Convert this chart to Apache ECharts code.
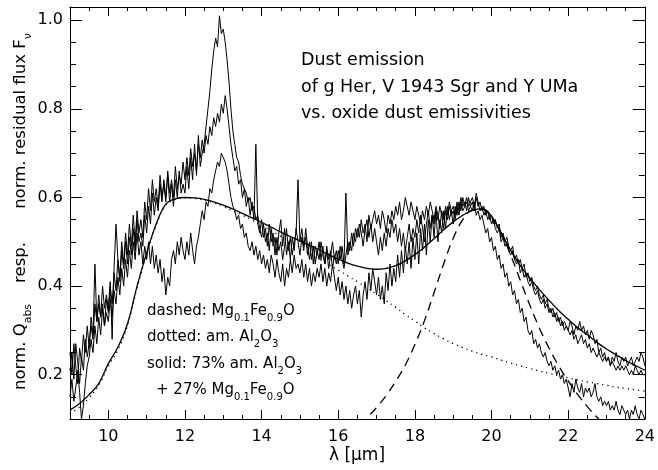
<!DOCTYPE html>
<html>
<head>
<meta charset="utf-8">
<script src="https://cdn.jsdelivr.net/npm/echarts@6/dist/echarts.min.js"></script>
<style>
html, body { margin: 0; padding: 0; background: #fff; }
#chart { width: 658px; height: 470px; }
</style>
</head>
<body>
<div id="chart"></div>
<script>
// spectra: 9 - 24 µm, sampled every 0.05 µm (one row = 0.5 µm)
const specStart = 9;
const specStep = 0.05;

const specA = [
  0.21, 0.25, 0.19, 0.27, 0.23, 0.18, 0.24, 0.21, 0.28, 0.24,
  0.27, 0.31, 0.28, 0.36, 0.32, 0.38, 0.33, 0.36, 0.31, 0.37,
  0.34, 0.40, 0.36, 0.43, 0.39, 0.46, 0.41, 0.48, 0.44, 0.50,
  0.45, 0.51, 0.47, 0.53, 0.48, 0.55, 0.50, 0.52, 0.49, 0.56,
  0.52, 0.58, 0.54, 0.61, 0.56, 0.60, 0.57, 0.63, 0.59, 0.64,
  0.60, 0.65, 0.59, 0.63, 0.58, 0.64, 0.60, 0.66, 0.61, 0.63,
  0.61, 0.67, 0.62, 0.69, 0.64, 0.72, 0.65, 0.74, 0.67, 0.70,
  0.72, 0.76, 0.80, 0.84, 0.89, 0.93, 0.96, 0.94, 1.01, 0.97,
  0.98, 0.95, 0.91, 0.86, 0.80, 0.75, 0.72, 0.69, 0.68, 0.65,
  0.63, 0.62, 0.61, 0.59, 0.60, 0.57, 0.58, 0.55, 0.56, 0.53,
  0.51, 0.54, 0.50, 0.52, 0.48, 0.53, 0.49, 0.51, 0.47, 0.52,
  0.55, 0.49, 0.53, 0.47, 0.50, 0.46, 0.51, 0.48, 0.53, 0.50,
  0.47, 0.51, 0.48, 0.53, 0.49, 0.46, 0.50, 0.45, 0.49, 0.47,
  0.50, 0.46, 0.49, 0.45, 0.48, 0.44, 0.47, 0.50, 0.46, 0.48,
  0.45, 0.49, 0.46, 0.44, 0.47, 0.50, 0.48, 0.52, 0.49, 0.53,
  0.51, 0.54, 0.52, 0.49, 0.53, 0.55, 0.51, 0.54, 0.50, 0.53,
  0.50, 0.47, 0.51, 0.48, 0.52, 0.49, 0.53, 0.51, 0.55, 0.52,
  0.54, 0.50, 0.53, 0.49, 0.52, 0.48, 0.51, 0.54, 0.50, 0.53,
  0.51, 0.55, 0.52, 0.56, 0.53, 0.50, 0.54, 0.57, 0.53, 0.56,
  0.54, 0.57, 0.55, 0.58, 0.56, 0.53, 0.57, 0.55, 0.58, 0.56,
  0.57, 0.55, 0.58, 0.56, 0.59, 0.57, 0.58, 0.60, 0.58, 0.59,
  0.60, 0.58, 0.61, 0.59, 0.57, 0.58, 0.56, 0.57, 0.55, 0.56,
  0.54, 0.55, 0.53, 0.52, 0.53, 0.50, 0.51, 0.49, 0.50, 0.48,
  0.47, 0.48, 0.46, 0.45, 0.46, 0.43, 0.44, 0.42, 0.43, 0.41,
  0.40, 0.41, 0.39, 0.38, 0.39, 0.37, 0.36, 0.37, 0.35, 0.36,
  0.34, 0.35, 0.33, 0.34, 0.32, 0.33, 0.31, 0.32, 0.30, 0.31,
  0.30, 0.29, 0.30, 0.28, 0.29, 0.27, 0.28, 0.29, 0.27, 0.28,
  0.26, 0.27, 0.25, 0.26, 0.25, 0.24, 0.25, 0.24, 0.23, 0.24,
  0.23, 0.24, 0.22, 0.23, 0.22, 0.21, 0.22, 0.21, 0.22, 0.21,
  0.22, 0.21, 0.20, 0.21, 0.20, 0.22, 0.21, 0.20, 0.21, 0.20,
  0.20
];

const specB = [
  0.25, 0.20, 0.27, 0.22, 0.18, 0.26, 0.23, 0.29, 0.25, 0.31,
  0.26, 0.33, 0.29, 0.45, 0.32, 0.36, 0.33, 0.40, 0.35, 0.38,
  0.35, 0.41, 0.28, 0.44, 0.54, 0.46, 0.42, 0.50, 0.45, 0.52,
  0.47, 0.54, 0.49, 0.56, 0.50, 0.57, 0.52, 0.55, 0.51, 0.59,
  0.55, 0.62, 0.57, 0.64, 0.59, 0.62, 0.58, 0.65, 0.60, 0.63,
  0.59, 0.66, 0.61, 0.64, 0.60, 0.67, 0.62, 0.65, 0.63, 0.68,
  0.64, 0.69, 0.65, 0.71, 0.67, 0.70, 0.66, 0.72, 0.69, 0.73,
  0.70, 0.74, 0.72, 0.76, 0.74, 0.78, 0.76, 0.79, 0.77, 0.81,
  0.79, 0.83, 0.80, 0.76, 0.72, 0.69, 0.66, 0.67, 0.63, 0.64,
  0.60, 0.62, 0.58, 0.60, 0.56, 0.59, 0.55, 0.72, 0.54, 0.52,
  0.55, 0.51, 0.53, 0.49, 0.54, 0.50, 0.52, 0.47, 0.51, 0.48,
  0.50, 0.46, 0.49, 0.53, 0.48, 0.51, 0.47, 0.50, 0.52, 0.64,
  0.50, 0.53, 0.49, 0.51, 0.47, 0.50, 0.46, 0.49, 0.45, 0.48,
  0.46, 0.50, 0.47, 0.45, 0.49, 0.46, 0.48, 0.44, 0.47, 0.45,
  0.48, 0.46, 0.49, 0.45, 0.61, 0.47, 0.50, 0.48, 0.52, 0.50,
  0.53, 0.51, 0.55, 0.52, 0.54, 0.50, 0.56, 0.53, 0.55, 0.57,
  0.54, 0.56, 0.53, 0.57, 0.55, 0.52, 0.56, 0.54, 0.57, 0.55,
  0.58, 0.56, 0.59, 0.55, 0.57, 0.60, 0.58, 0.56, 0.59, 0.57,
  0.55, 0.58, 0.56, 0.54, 0.57, 0.55, 0.58, 0.56, 0.59, 0.57,
  0.55, 0.58, 0.56, 0.53, 0.57, 0.55, 0.58, 0.56, 0.59, 0.57,
  0.58, 0.56, 0.59, 0.57, 0.60, 0.58, 0.59, 0.57, 0.60, 0.58,
  0.59, 0.57, 0.60, 0.58, 0.59, 0.57, 0.58, 0.56, 0.57, 0.55,
  0.56, 0.54, 0.55, 0.53, 0.54, 0.51, 0.52, 0.50, 0.51, 0.49,
  0.48, 0.49, 0.46, 0.47, 0.45, 0.46, 0.44, 0.45, 0.42, 0.43,
  0.41, 0.42, 0.40, 0.39, 0.40, 0.38, 0.37, 0.38, 0.36, 0.37,
  0.35, 0.34, 0.35, 0.33, 0.34, 0.32, 0.33, 0.31, 0.32, 0.31,
  0.30, 0.32, 0.31, 0.29, 0.31, 0.30, 0.32, 0.30, 0.31, 0.29,
  0.30, 0.28, 0.30, 0.29, 0.27, 0.28, 0.25, 0.26, 0.24, 0.25,
  0.23, 0.24, 0.22, 0.24, 0.23, 0.25, 0.23, 0.22, 0.24, 0.23,
  0.24, 0.22, 0.23, 0.24, 0.22, 0.23, 0.24, 0.23, 0.25, 0.24,
  0.22
];

const specC = [
  0.15, 0.19, 0.14, 0.17, 0.21, 0.16, 0.10, 0.13, 0.18, 0.22,
  0.24, 0.28, 0.25, 0.31, 0.27, 0.33, 0.29, 0.35, 0.31, 0.34,
  0.32, 0.37, 0.33, 0.39, 0.36, 0.42, 0.38, 0.44, 0.40, 0.46,
  0.42, 0.48, 0.44, 0.50, 0.46, 0.52, 0.47, 0.50, 0.45, 0.49,
  0.46, 0.50, 0.45, 0.49, 0.44, 0.47, 0.43, 0.46, 0.41, 0.44,
  0.38, 0.42, 0.40, 0.46, 0.48, 0.45, 0.50, 0.47, 0.51, 0.48,
  0.46, 0.50, 0.47, 0.52, 0.48, 0.45, 0.49, 0.51, 0.54, 0.57,
  0.55, 0.59, 0.58, 0.62, 0.61, 0.64, 0.66, 0.68, 0.67, 0.70,
  0.70, 0.68, 0.66, 0.63, 0.60, 0.58, 0.57, 0.55, 0.56, 0.53,
  0.54, 0.51, 0.52, 0.49, 0.48, 0.50, 0.47, 0.49, 0.46, 0.48,
  0.45, 0.47, 0.44, 0.46, 0.43, 0.47, 0.45, 0.42, 0.46, 0.43,
  0.41, 0.45, 0.40, 0.44, 0.42, 0.46, 0.43, 0.47, 0.44, 0.45,
  0.43, 0.46, 0.42, 0.45, 0.41, 0.44, 0.40, 0.43, 0.41, 0.44,
  0.42, 0.45, 0.41, 0.44, 0.40, 0.43, 0.41, 0.45, 0.42, 0.39,
  0.42, 0.38, 0.41, 0.37, 0.40, 0.36, 0.39, 0.35, 0.38, 0.40,
  0.36, 0.39, 0.33, 0.38, 0.41, 0.37, 0.43, 0.39, 0.44, 0.41,
  0.38, 0.42, 0.37, 0.40, 0.36, 0.43, 0.39, 0.45, 0.40, 0.44,
  0.41, 0.47, 0.42, 0.48, 0.43, 0.49, 0.45, 0.50, 0.44, 0.51,
  0.46, 0.52, 0.45, 0.53, 0.48, 0.54, 0.47, 0.55, 0.50, 0.56,
  0.51, 0.57, 0.50, 0.55, 0.52, 0.57, 0.53, 0.58, 0.55, 0.57,
  0.54, 0.58, 0.56, 0.59, 0.57, 0.60, 0.58, 0.59, 0.57, 0.58,
  0.57, 0.59, 0.56, 0.57, 0.55, 0.56, 0.54, 0.52, 0.53, 0.50,
  0.51, 0.48, 0.49, 0.46, 0.47, 0.44, 0.45, 0.42, 0.43, 0.40,
  0.41, 0.38, 0.39, 0.36, 0.37, 0.34, 0.35, 0.32, 0.33, 0.30,
  0.29, 0.30, 0.27, 0.28, 0.26, 0.27, 0.25, 0.24, 0.25, 0.23,
  0.22, 0.23, 0.21, 0.22, 0.20, 0.21, 0.19, 0.20, 0.18, 0.19,
  0.17, 0.15, 0.18, 0.16, 0.19, 0.17, 0.16, 0.18, 0.15, 0.17,
  0.16, 0.17, 0.15, 0.16, 0.18, 0.15, 0.14, 0.15, 0.13, 0.14,
  0.13, 0.14, 0.12, 0.13, 0.12, 0.14, 0.12, 0.11, 0.13, 0.12,
  0.11, 0.12, 0.10, 0.12, 0.11, 0.13, 0.11, 0.10, 0.12, 0.11,
  0.10
];

// model emissivities: 9 - 24 µm every 0.25 µm
const modelStart = 9;
const modelStep = 0.25;

const solidMix = [
  0.120, 0.135, 0.155, 0.180, 0.225, 0.262, 0.315, 0.400,
  0.475, 0.540, 0.585, 0.597, 0.600, 0.599, 0.596, 0.590,
  0.583, 0.574, 0.564, 0.554, 0.544, 0.533, 0.522, 0.512,
  0.502, 0.492, 0.482, 0.471, 0.461, 0.452, 0.445, 0.440,
  0.438, 0.440, 0.446, 0.457, 0.471, 0.488, 0.507, 0.527,
  0.545, 0.560, 0.571, 0.575, 0.558, 0.520, 0.480, 0.446,
  0.418, 0.392, 0.368, 0.345, 0.325, 0.306, 0.290, 0.273,
  0.258, 0.245, 0.232, 0.221, 0.210
];

const dottedAl2O3 = [
  0.112, 0.127, 0.148, 0.176, 0.220, 0.256, 0.311, 0.396,
  0.472, 0.538, 0.583, 0.596, 0.599, 0.598, 0.594, 0.588,
  0.580, 0.570, 0.560, 0.549, 0.537, 0.525, 0.512, 0.500,
  0.487, 0.474, 0.461, 0.449, 0.436, 0.423, 0.410, 0.396,
  0.382, 0.367, 0.352, 0.336, 0.321, 0.306, 0.293, 0.281,
  0.270, 0.261, 0.253, 0.246, 0.240, 0.233, 0.226, 0.220,
  0.214, 0.208, 0.203, 0.198, 0.193, 0.188, 0.184, 0.180,
  0.176, 0.172, 0.169, 0.166, 0.163
];

// Mg0.1Fe0.9O: 16.25 - 23.25 µm every 0.25 µm
const dashedStart = 16.25;
const dashedMgFeO = [
  0.065, 0.082, 0.103, 0.126, 0.153, 0.185, 0.222, 0.268,
  0.322, 0.385, 0.450, 0.508, 0.550, 0.572, 0.574, 0.556,
  0.520, 0.470, 0.413, 0.357, 0.305, 0.260, 0.220, 0.186,
  0.155, 0.128, 0.104, 0.083, 0.065
];

const xTicks = [10, 12, 14, 16, 18, 20, 22, 24];
const yTicks = [0.2, 0.4, 0.6, 0.8, 1.0];

const font = 'DejaVu Sans';

function pairs(start, step, values) {
  return values.map((v, i) => [+(start + i * step).toFixed(3), v]);
}

function specSeries(values) {
  return {
    type: 'line',
    data: pairs(specStart, specStep, values),
    showSymbol: false,
    lineStyle: { color: '#000', width: 1 },
    z: 3
  };
}

function modelSeries(data, type, width) {
  return {
    type: 'line',
    data: data,
    smooth: 0.4,
    showSymbol: false,
    lineStyle: { color: '#000', width: width, type: type },
    z: 4
  };
}

// axes sharing the plot frame: major ticks (+labels) and minor ticks
function xAxisDef(pos, major) {
  return {
    type: 'value', min: 9, max: 24, position: pos,
    axisLine: { show: major, onZero: false, lineStyle: { color: '#000', width: 1 } },
    axisTick: major
      ? { inside: true, length: 9, customValues: xTicks, lineStyle: { color: '#000' } }
      : { inside: true, length: 4, lineStyle: { color: '#000' } },
    interval: major ? undefined : 0.5,
    axisLabel: (major && pos === 'bottom')
      ? { customValues: xTicks, color: '#000', fontSize: 16, fontFamily: font, margin: 10 }
      : { show: false },
    splitLine: { show: false }
  };
}

function yAxisDef(pos, major) {
  return {
    type: 'value', min: 0.1, max: 1.03, position: pos,
    axisLine: { show: major, onZero: false, lineStyle: { color: '#000', width: 1 } },
    axisTick: major
      ? { inside: true, length: 12, customValues: yTicks, lineStyle: { color: '#000' } }
      : { inside: true, length: 6, lineStyle: { color: '#000' } },
    interval: major ? undefined : 0.05,
    axisLabel: (major && pos === 'left')
      ? { customValues: yTicks, color: '#000', fontSize: 16, fontFamily: font, margin: 7,
          formatter: v => v.toFixed(1) }
      : { show: false },
    splitLine: { show: false }
  };
}

// main text hangs from the line top, subscripts sit on the line bottom
const richLegend = {
  n: { fontSize: 15, lineHeight: 16, verticalAlign: 'top', fontFamily: font, color: '#000' },
  s: { fontSize: 10, lineHeight: 19, verticalAlign: 'bottom', fontFamily: font, color: '#000' }
};
const richY = {
  n: { fontSize: 16.5, lineHeight: 17, verticalAlign: 'top', fontFamily: font, color: '#000' },
  s: { fontSize: 11, lineHeight: 21, verticalAlign: 'bottom', fontFamily: font, color: '#000' }
};

function plainText(x, y, text, size) {
  return {
    type: 'text', x: x, y: y, silent: true,
    style: { text: text, fontSize: size, fontFamily: font, fill: '#000',
             align: 'left', verticalAlign: 'middle' }
  };
}

function richText(x, y, text) {
  return {
    type: 'text', x: x, y: y, silent: true,
    style: { text: text, rich: richLegend, fill: '#000', align: 'left', verticalAlign: 'top' }
  };
}

const chart = echarts.init(document.getElementById('chart'), null, { renderer: 'canvas' });

const option = {
  backgroundColor: '#fff',
  animation: false,
  grid: { left: 70, right: 11, top: 7, bottom: 51, containLabel: false },
  xAxis: [
    xAxisDef('bottom', true),
    xAxisDef('bottom', false),
    xAxisDef('top', true),
    xAxisDef('top', false)
  ],
  yAxis: [
    yAxisDef('left', true),
    yAxisDef('left', false),
    yAxisDef('right', true),
    yAxisDef('right', false)
  ],
  series: [
    specSeries(specA),
    specSeries(specB),
    specSeries(specC),
    modelSeries(pairs(modelStart, modelStep, solidMix), 'solid', 1.3),
    modelSeries(pairs(modelStart, modelStep, dottedAl2O3), [1.2, 4], 1.3),
    modelSeries(pairs(dashedStart, modelStep, dashedMgFeO), [9, 6], 1.3)
  ],
  graphic: [
    plainText(301, 60, 'Dust emission', 17.5),
    plainText(301, 87, 'of g Her, V 1943 Sgr and Y UMa', 17.5),
    plainText(301, 113, 'vs. oxide dust emissivities', 17.5),
    richText(147, 304, '{n|dashed: Mg}{s|0.1}{n|Fe}{s|0.9}{n|O}'),
    richText(147, 330, '{n|dotted: am. Al}{s|2}{n|O}{s|3}'),
    richText(147, 357, '{n|solid: 73% am. Al}{s|2}{n|O}{s|3}'),
    richText(156, 383, '{n|+ 27% Mg}{s|0.1}{n|Fe}{s|0.9}{n|O}'),
    {
      type: 'text', x: 23, y: 121, rotation: Math.PI / 2, silent: true,
      style: { text: '{n|norm. residual flux F}{s|ν}', rich: richY, fill: '#000',
               align: 'center', verticalAlign: 'middle' }
    },
    {
      type: 'text', x: 23, y: 316, rotation: Math.PI / 2, silent: true,
      style: { text: '{n|norm. Q}{s|abs}{n|    resp.}', rich: richY, fill: '#000',
               align: 'center', verticalAlign: 'middle' }
    },
    {
      type: 'text', x: 357, y: 456, silent: true,
      style: { text: 'λ [μm]', fontSize: 17, fontFamily: font, fill: '#000',
               align: 'center', verticalAlign: 'middle' }
    }
  ]
};

chart.setOption(option);
</script>
</body>
</html>
